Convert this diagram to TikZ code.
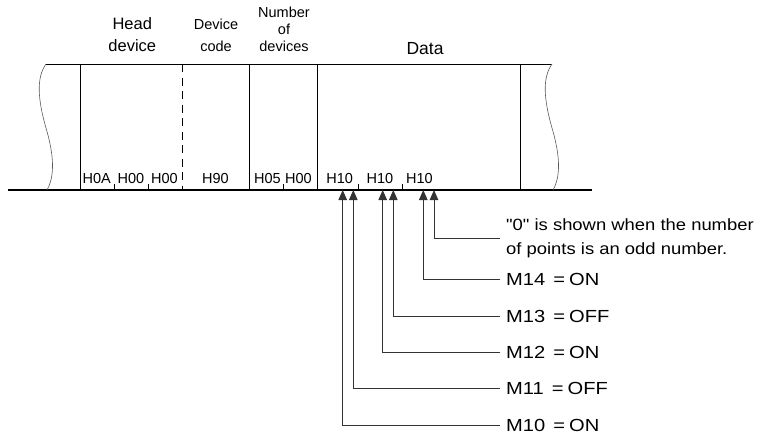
\documentclass[tikz,border=0pt]{standalone}
\usepackage{fontspec}
\setmainfont{Liberation Sans}
\newfontfamily\lblfont[FakeStretch=1.15]{Liberation Sans}
\newfontfamily\notefont[FakeStretch=1.13]{Liberation Sans}
\usetikzlibrary{arrows.meta}
\begin{document}
\begin{tikzpicture}[x=1pt,y=-1pt,
  frame/.style={line width=1pt,black},
  base/.style={line width=1.6pt,black},
  wave/.style={line width=0.6pt,black!65},
  tick/.style={line width=0.8pt,black},
  conn/.style={line width=1pt,black!80,-{Triangle[width=8.5pt,length=10pt]}},
  hdr/.style={inner sep=0pt,align=center,font=\fontsize{14.5}{17}\selectfont},
  val/.style={inner sep=0pt,anchor=base,font=\fontsize{14.5}{17}\selectfont},
  lbl/.style={anchor=west,inner xsep=6pt,inner ysep=0pt,font=\lblfont\fontsize{17.5}{20}\selectfont}]
\useasboundingbox (0,0) rectangle (758,439);
% frame
\draw[frame] (46,64) -- (552,64);
\draw[base] (8,190) -- (592,190);
\draw[frame] (80.5,64) -- (80.5,190);
\draw[frame,line width=0.9pt,dash pattern=on 8pt off 5.5pt] (182.7,64) -- (182.7,190);
\draw[frame] (249,64) -- (249,190);
\draw[frame] (317,64) -- (317,190);
\draw[frame] (520.5,64) -- (520.5,190);
% wavy ends
\draw[wave] (46,64) .. controls (36,78) and (38,100) .. (46,128) .. controls (54,155) and (55,176) .. (47,190);
\draw[wave] (552,64) .. controls (542,78) and (544,100) .. (552,128) .. controls (560,155) and (561,176) .. (553,190);
% ticks
\foreach \x in {114.5,148.5,283,358,402} \draw[tick] (\x,184) -- (\x,190);
% headers
\node[hdr,anchor=south,font=\fontsize{16.5}{22}\selectfont] (hd) at (132.3,52.3) {Head\\device};
\node[hdr,anchor=south,font=\fontsize{14.5}{22}\selectfont] (dc) at (216,52.3) {Device\\code};
\node[hdr,anchor=south,font=\fontsize{14.5}{17}\selectfont] (nd) at (284,52.3) {Number\\of\\devices};
\node[hdr,anchor=base,font=\fontsize{17.5}{20}\selectfont] (da) at (425,54) {Data};
% values
\node[val] (v1) at (96.7,183.3) {H0A};
\node[val] (v2) at (131,183.3) {H00};
\node[val] (v3) at (164.5,183.3) {H00};
\node[val] (v4) at (215.5,183.3) {H90};
\node[val] (v5) at (267.5,183.3) {H05};
\node[val] (v6) at (298.5,183.3) {H00};
\node[val] (v7) at (339.7,183.3) {H10};
\node[val] (v8) at (380,183.3) {H10};
\node[val] (v9) at (419.5,183.3) {H10};
% arrow tips
\coordinate (t10) at (342.7,190);
\coordinate (t11) at (353.3,190);
\coordinate (t12) at (382.7,190);
\coordinate (t13) at (393.3,190);
\coordinate (t14) at (423.3,190);
\coordinate (t0) at (434,190);
% labels
\node[lbl,align=left,font=\notefont\fontsize{16.3}{23.5}\selectfont] (n0) at (500,238.5) {\symbol{34}0\symbol{34} is shown when the number\\of points is an odd number.};
\node[lbl] (m14) at (500,279) {M14\hspace{8pt}=\hspace{4pt}ON};
\node[lbl] (m13) at (500,316) {M13\hspace{8pt}=\hspace{4pt}OFF};
\node[lbl] (m12) at (500,352) {M12\hspace{8pt}=\hspace{4pt}ON};
\node[lbl] (m11) at (500,388) {M11\hspace{8pt}=\hspace{4pt}OFF};
\node[lbl] (m10) at (500,425) {M10\hspace{8pt}=\hspace{4pt}ON};
% connectors
\draw[conn] (n0.west) -| (t0);
\draw[conn] (m14.west) -| (t14);
\draw[conn] (m13.west) -| (t13);
\draw[conn] (m12.west) -| (t12);
\draw[conn] (m11.west) -| (t11);
\draw[conn] (m10.west) -| (t10);
\end{tikzpicture}
\end{document}
